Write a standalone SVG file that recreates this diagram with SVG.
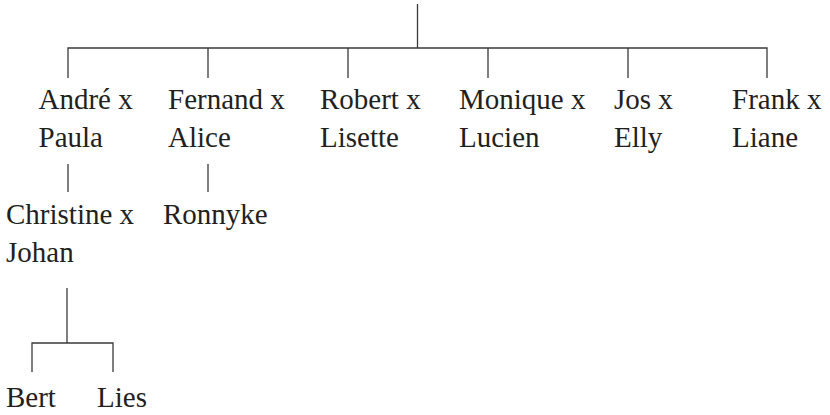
<svg xmlns="http://www.w3.org/2000/svg" width="830" height="415" viewBox="0 0 830 415">
<style>
.t{font-family:"Liberation Serif","Times New Roman",serif;font-size:29px;fill:#231f20}
.c{fill:none;stroke:#3a3a3a;stroke-width:1.3}
</style>
<rect width="830" height="415" fill="#fff"/>
<g id="connectors">
<path class="c" d="M417.5,4V48"/>
<path class="c" d="M68,78V48H767V78"/>
<path class="c" d="M208,48V78M348,48V78M488,48V78M628,48V78"/>
<path class="c" d="M68,164V192M208,164V192"/>
<path class="c" d="M67,288V343"/>
<path class="c" d="M32,372V343H113V372"/>
</g>
<g id="andre"><text class="t" x="38.5" y="109">André x</text><text class="t" x="38.5" y="147">Paula</text></g>
<g id="fernand"><text class="t" x="168" y="109">Fernand x</text><text class="t" x="168" y="147">Alice</text></g>
<g id="robert"><text class="t" x="320" y="109">Robert x</text><text class="t" x="320" y="147">Lisette</text></g>
<g id="monique"><text class="t" x="459" y="109">Monique x</text><text class="t" x="459" y="147">Lucien</text></g>
<g id="jos"><text class="t" x="614" y="109">Jos x</text><text class="t" x="614" y="147">Elly</text></g>
<g id="frank"><text class="t" x="732" y="109">Frank x</text><text class="t" x="732" y="147">Liane</text></g>
<g id="christine"><text class="t" x="6" y="224">Christine x</text><text class="t" x="6" y="262">Johan</text></g>
<g id="ronnyke"><text class="t" x="163" y="224">Ronnyke</text></g>
<g id="bert"><text class="t" x="6" y="407">Bert</text></g>
<g id="lies"><text class="t" x="97" y="407">Lies</text></g>
</svg>
